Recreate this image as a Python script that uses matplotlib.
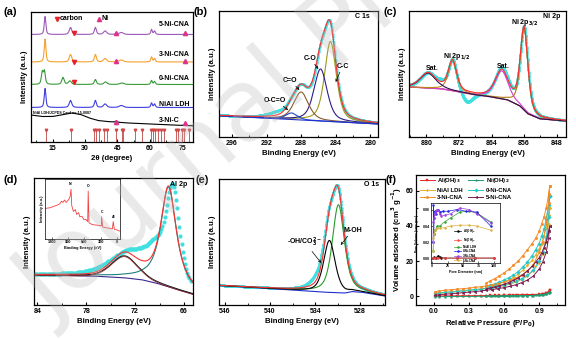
import numpy as np
import matplotlib
matplotlib.use('Agg')
import matplotlib.pyplot as plt
from matplotlib.ticker import AutoMinorLocator, MultipleLocator

plt.rcParams['font.family'] = ['Liberation Sans', 'DejaVu Sans']
plt.rcParams['font.weight'] = 'bold'
plt.rcParams['axes.labelweight'] = 'bold'
plt.rcParams['font.size'] = 5
plt.rcParams['axes.linewidth'] = 0.9
plt.rcParams['xtick.direction'] = 'in'
plt.rcParams['ytick.direction'] = 'in'
plt.rcParams['xtick.major.size'] = 2.5
plt.rcParams['xtick.minor.size'] = 1.4
plt.rcParams['ytick.major.size'] = 2.5
plt.rcParams['ytick.minor.size'] = 1.4
plt.rcParams['xtick.major.pad'] = 2
plt.rcParams['ytick.major.pad'] = 2
plt.rcParams['axes.labelpad'] = 2

W, H = 576, 339


def pv(x, c, h, w, eta=0.5):
    # pseudo-Voigt peak
    d = (x - c) / w
    return h * (eta / (1 + 4 * d**2) + (1 - eta) * np.exp(-4 * np.log(2) * d**2))


def peaks(x, cen, hei, wid, eta=0.5):
    return sum(pv(x, c, h, w, eta) for c, h, w in zip(cen, hei, wid))


def px_axes(l, t, r, b):
    return fig.add_axes([l / W, 1 - b / H, (r - l) / W, (b - t) / H])


# ---------------- (a) XRD ----------------
xrd_names = ['NiAl LDH', '0-Ni-CNA', '3-Ni-CNA', '5-Ni-CNA']
xrd_colors = ['#3f3fe0', '#3a9a3a', '#f5a030', '#9b59b6']
xrd_offset = [34.5, 57.5, 80, 107.5]
xrd_pos = [
    [11.5, 23.3, 34.8, 39.3, 46.8, 60.8, 62.2],
    [10.2, 11.2, 19.8, 23.0, 34.8, 39.5, 47.0, 60.8, 62.2],
    [11.5, 23.3, 34.8, 39.3, 44.5, 46.8, 60.8, 62.2, 76.4],
    [11.5, 23.3, 34.8, 39.3, 44.5, 46.8, 60.8, 62.2, 76.4],
]
xrd_hei = [
    [19, 7, 7, 3.5, 2, 4.5, 3.5],
    [12, 13, 7, 3.5, 5, 2.5, 1.5, 4, 3],
    [23, 7.5, 7.5, 3.5, 1, 2, 5, 3.5, 0.8],
    [18, 7, 7, 3.5, 1.2, 2, 5, 3.5, 1],
]
xrd_wid = [
    [0.9, 1.4, 1.1, 1.7, 2.2, 0.8, 0.9],
    [1.0, 1.0, 1.3, 1.6, 1.1, 1.7, 2.2, 0.8, 0.9],
    [0.9, 1.4, 1.1, 1.7, 1.0, 2.2, 0.8, 0.9, 1.0],
    [0.9, 1.4, 1.1, 1.7, 1.0, 2.2, 0.8, 0.9, 1.0],
]
nic_2t = [5, 10, 15, 20, 24, 28, 32, 36, 40, 50, 60, 70, 80]
nic_base = [27, 25.5, 25.5, 27.5, 29, 27.5, 24, 21.5, 20.5, 19, 18, 17, 16.2]
nic_pos = [44.5, 76.4]
nic_hei = [1.2, 0.6]
nic_wid = [1.0, 1.0]
jcpds = [11.9, 23.5, 34.3, 35.0, 36.6, 38.8, 40.3, 44.3, 47.0, 47.7, 53.3, 56.5,
         60.4, 61.3, 62.4, 63.6, 65.2, 66.6, 72.0, 72.9, 74.9, 75.8, 78.0]
carbon_marks = [(25, 109), (25, 80.5), (25, 60)]
ni_marks = [(44.5, 109.5), (44.5, 81), (44.5, 20.5), (76.4, 109.5), (76.4, 81), (76.4, 19.5)]

# ---------------- (b) C 1s ----------------
c1s_bg_x = [297.5, 279.1]
c1s_bg_y = [21.3, 13]
c1s_cen = [284.6, 285.75, 288.0, 289.1]
c1s_hei = [80, 52, 28, 6.5]
c1s_wid = [1.6, 1.8, 2.0, 1.6]
c1s_col = ['#9c9a1a', '#2b1d8a', '#8b5a2b', '#2545c8']
c1s_raw_cen = [284.6, 285.75, 288.0, 289.1, 290.8]
c1s_raw_hei = [80, 52, 28, 6.5, 4]
c1s_raw_wid = [1.6, 1.8, 2.0, 1.6, 2.5]

# ---------------- (c) Ni 2p ----------------
ni_bg_x = [884.3, 880, 876, 872, 868, 864, 860, 857, 855, 852, 845.7]
ni_bg_y = [50, 49, 48, 45, 42, 40, 37, 31, 23, 18, 16]
ni_cen = [856.0, 861.5, 873.6, 879.6]
ni_hei = [82, 28, 30, 15]
ni_wid = [2.2, 3.8, 2.4, 4.5]
ni_col = ['#b07a10', '#d83ad8', '#c08020', '#2a1050']
ni_raw_cen = [856.0, 861.5, 873.6, 879.6, 870.0, 876.5]
ni_raw_hei = [82, 30, 31, 15, -11, 3]
ni_raw_wid = [2.2, 3.8, 2.4, 4.5, 3.2, 2.0]

# ---------------- (d) Al 2p ----------------
al_bg_x = [84.4, 80, 76, 73, 71, 69, 67, 66, 64.9]
al_bg_y = [30, 29.5, 28.5, 27, 25, 21, 16, 13.5, 11]
al_cen = [67.9, 73.3]
al_hei = [100, 22]
al_wid = [2.3, 3.8]
al_raw_cen = [67.4, 72.5, 69.5]
al_raw_hei = [94, 26, 22]
al_raw_wid = [2.0, 6.0, 2.5]
survey_be = [1320, 1230, 1170, 1111, 1050, 1020, 990, 963, 933, 885, 861, 844, 832,
             802, 766, 743, 707, 683, 647, 606, 576, 540, 531, 516, 457, 368, 291,
             285, 267, 160, 89, 74, 53, 0, -50]
survey_int = [51, 52, 54, 56, 58.5, 63, 61, 65, 61, 66, 71, 83, 56, 46, 49, 41, 44,
              37, 38, 32, 33, 29, 80, 27, 24, 23, 22, 37, 20, 18, 17, 29, 16, 15, 13]

# ---------------- (e) O 1s ----------------
o_bg_x = [546.8, 540, 535, 532, 530, 529, 527.5, 524.7]
o_bg_y = [19.5, 16.5, 14, 12.5, 12, 13.5, 12.5, 9]
o_cen = [530.9, 532.1]
o_hei = [88, 52]
o_wid = [1.9, 1.8]
o_raw_cen = [530.9, 532.2, 534.0]
o_raw_hei = [88, 55, 5]
o_raw_wid = [1.9, 1.9, 2.0]

# ---------------- (f) N2 isotherms ----------------
p_ads = [0.01, 0.05, 0.1, 0.15, 0.2, 0.25, 0.3, 0.35, 0.4, 0.45, 0.5, 0.55, 0.6,
         0.65, 0.7, 0.75, 0.8, 0.85, 0.9, 0.93, 0.96, 0.98, 0.99]
p_des = [0.99, 0.98, 0.96, 0.94, 0.92, 0.9, 0.87, 0.84, 0.8, 0.76, 0.72, 0.68,
         0.64, 0.6, 0.56, 0.52, 0.48, 0.45]
iso_names = ['Al(OH)$_3$', 'Ni(OH)$_2$', 'NiAl LDH', '0-Ni-CNA', '3-Ni-CNA', '5-Ni-CNA']
iso_colors = ['#e02828', '#1f9b6e', '#e8b030', '#22c8c8', '#f58a24', '#7a1a50']
iso_markers = ['s', '*', 'P', 'D', 'o', '<']
iso_ads = [
    [0.1, 0.15, 0.2, 0.2, 0.25, 0.25, 0.3, 0.3, 0.35, 0.35, 0.4, 0.4, 0.45, 0.5,
     0.55, 0.6, 0.7, 0.8, 0.95, 1.2, 1.6, 2.4, 3.5],
    [-0.3, -0.25, -0.2, -0.2, -0.15, -0.15, -0.1, -0.1, -0.05, -0.05, 0, 0, 0.05,
     0.1, 0.15, 0.2, 0.3, 0.4, 0.55, 0.75, 1.1, 1.7, 2.5],
    [1.3, 1.7, 2.0, 2.3, 2.6, 2.9, 3.2, 3.5, 3.9, 4.3, 4.8, 5.3, 6.0, 6.9, 8.0, 9.5,
     11.5, 14.5, 19, 24, 31, 41, 50],
    [1.6, 2.0, 2.3, 2.6, 2.9, 3.2, 3.5, 3.8, 4.2, 4.6, 5.1, 5.7, 6.4, 7.3, 8.5, 10,
     12, 15, 20, 25, 33, 45, 57],
    [2.5, 3.0, 3.4, 3.7, 4.0, 4.3, 4.6, 5.0, 5.4, 5.9, 6.5, 7.2, 8.0, 9.0, 10.3,
     12.0, 14.3, 18, 25, 31, 41, 53, 63],
    [0.6, 0.9, 1.2, 1.4, 1.7, 2.0, 2.3, 2.6, 3.0, 3.4, 3.8, 4.3, 4.9, 5.6, 6.5, 7.7,
     9.2, 11.5, 15.5, 19.5, 25, 33, 40],
]
iso_des = [
    [3.5, 2.6, 1.8, 1.4, 1.15, 1.0, 0.9, 0.8, 0.75, 0.7, 0.65, 0.6, 0.55, 0.5, 0.5,
     0.45, 0.45, 0.4],
    [2.5, 1.9, 1.3, 1.0, 0.8, 0.65, 0.5, 0.4, 0.35, 0.3, 0.25, 0.2, 0.15, 0.1, 0.1,
     0.05, 0.05, 0],
    [50, 46, 39, 34, 30, 27, 23.5, 20.5, 17.5, 14.8, 12.5, 10.7, 9.3, 8.2, 7.2, 6.3,
     5.6, 5.0],
    [57, 52, 44, 38, 34, 30, 26.5, 23, 19.5, 16.5, 14, 12, 10.5, 9.2, 8.0, 7.0, 6.2,
     5.6],
    [63, 58, 50, 45, 41, 37, 33, 30, 26.5, 23, 20, 17.5, 15.3, 13.2, 11.5, 10.0,
     8.6, 7.6],
    [40, 37, 31, 27.5, 24.5, 22, 19.5, 17, 14.5, 12.3, 10.5, 9.0, 7.8, 6.8, 6.0,
     5.3, 4.7, 4.2],
]
psd_names = ['Al(OH)$_3$', 'Ni(OH)$_2$', 'NiAl LDH', '0-Ni-CNA', '3-Ni-CNA', '5-Ni-CNA']
psd_colors = ['#000000', '#ff4040', '#30a030', '#2020e0', '#9b40e0', '#e0b040']
psd_x = [
    [1, 3, 6, 10, 12, 15, 20, 40, 70, 100],
    [1, 5, 10, 20, 40, 70, 100],
    [1.5, 2, 3, 5, 8, 12, 20, 30, 45, 60, 72, 95],
    [1.5, 2, 2.5, 3, 4, 6, 8, 10, 13, 17, 25, 40, 55, 72, 95],
    [1.5, 2, 3, 4, 6, 8, 10, 12, 15, 20, 30, 45, 60, 72, 95],
    [1.5, 2, 3, 5, 8, 12, 20, 30, 45, 60, 72, 95],
]
psd_y = [
    [0.001, 0.002, 0.0015, 0.004, 0.002, 0.0015, 0.001, 0.001, 0.001, 0.001],
    [0.0015, 0.001, 0.001, 0.001, 0.001, 0.001, 0.001],
    [0.01, 0.02, 0.03, 0.035, 0.04, 0.04, 0.045, 0.05, 0.057, 0.058, 0.056, 0.045],
    [0.02, 0.065, 0.03, 0.05, 0.058, 0.055, 0.06, 0.06, 0.057, 0.058, 0.058, 0.06,
     0.058, 0.057, 0.04],
    [0.02, 0.045, 0.05, 0.055, 0.058, 0.06, 0.06, 0.055, 0.052, 0.053, 0.055, 0.062,
     0.06, 0.055, 0.044],
    [0.01, 0.025, 0.03, 0.035, 0.037, 0.037, 0.038, 0.04, 0.041, 0.041, 0.04, 0.035],
]

LBL = 5.6
TCK = 5.0
LW = 0.8

fig = plt.figure(figsize=(W / 100, H / 100), dpi=100)


def xps_style(ax, xlim, ylim, major, label='Binding Energy (eV)'):
    ax.set_xlim(*xlim)
    ax.set_ylim(*ylim)
    ax.set_yticks([])
    ax.xaxis.set_major_locator(MultipleLocator(major))
    ax.xaxis.set_minor_locator(AutoMinorLocator(2))
    ax.tick_params(labelsize=TCK)
    ax.set_xlabel(label, fontsize=LBL)
    ax.set_ylabel('Intensity (a.u.)', fontsize=LBL)


# (a)
ax = px_axes(31, 12, 193, 142)
tt = np.linspace(5, 80, 1501)
for name, col, off, pos, hei, wid in zip(xrd_names, xrd_colors, xrd_offset, xrd_pos, xrd_hei, xrd_wid):
    ax.plot(tt, off + peaks(tt, pos, hei, wid, 0.6), color=col, lw=LW)
ax.plot(tt, np.interp(tt, nic_2t, nic_base) + peaks(tt, nic_pos, nic_hei, nic_wid), color='black', lw=LW)
ax.vlines(jcpds, 0, 12, color='#c86060', lw=0.7)
ax.plot(jcpds, [12] * len(jcpds), 'v', color='#d04848', ms=1.8)
for x, y in carbon_marks:
    ax.plot(x, y, 'v', color='#e8202a', ms=3)
for x, y in ni_marks:
    ax.plot(x, y, '^', color='#e0308a', ms=3)
ax.plot(17, 123, 'v', color='#e8202a', ms=3)
ax.text(18.5, 123, 'carbon', fontsize=5, va='center')
ax.plot(36.3, 123, '^', color='#e0308a', ms=3)
ax.text(37.8, 123, 'Ni', fontsize=5, va='center')
for txt, y in [('5-Ni-CNA', 118), ('3-Ni-CNA', 88), ('0-Ni-CNA', 63), ('NiAl LDH', 38)]:
    ax.text(78.5, y, txt, fontsize=5, ha='right', va='center')
ax.text(74, 21, '3-Ni-C', fontsize=5, ha='right', va='center')
ax.text(6, 29.5, 'NiAl LDH/JCPDS Card no:15-0087', fontsize=2.6, va='center')
ax.set_xlim(5, 80)
ax.set_ylim(0, 130)
ax.set_yticks([])
ax.xaxis.set_major_locator(MultipleLocator(15))
ax.xaxis.set_minor_locator(AutoMinorLocator(2))
ax.tick_params(labelsize=TCK)
ax.set_xlabel('2\u03b8 (degree)', fontsize=LBL)
ax.set_ylabel('Intensity (a.u.)', fontsize=LBL)

# (b)
ax = px_axes(219, 11, 378, 137)
xb = np.linspace(279.1, 297.5, 800)
bgb = np.interp(xb, c1s_bg_x[::-1], c1s_bg_y[::-1])
ax.plot(xb, bgb + peaks(xb, c1s_raw_cen, c1s_raw_hei, c1s_raw_wid), 'o', color='#40e0e0', ms=1.6, mew=0)
for c, h, w, col in zip(c1s_cen, c1s_hei, c1s_wid, c1s_col):
    ax.plot(xb, bgb + pv(xb, c, h, w), color=col, lw=LW)
ax.plot(xb, bgb, color='#2030d0', lw=LW)
ax.plot(xb, bgb + peaks(xb, c1s_cen, c1s_hei, c1s_wid), color='#ff3030', lw=LW)
arrow = dict(arrowstyle='->', lw=0.5, color='black', shrinkA=0, shrinkB=0, mutation_scale=4)
ax.annotate('C-C', xy=(284.0, 55), xytext=(283.2, 71), fontsize=5, ha='center', va='center', arrowprops=arrow)
ax.annotate('C-O', xy=(286.0, 68), xytext=(287.0, 79), fontsize=5, ha='center', va='center', arrowprops=arrow)
ax.annotate('C=O', xy=(288.2, 47), xytext=(289.3, 57), fontsize=5, ha='center', va='center', arrowprops=arrow)
ax.annotate('O-C=O', xy=(289.5, 27), xytext=(291.0, 37), fontsize=5, ha='center', va='center', arrowprops=arrow)
ax.text(280.0, 121, 'C 1s', fontsize=5, ha='right', va='center')
xps_style(ax, (297.5, 279.1), (0, 126), 4)

# (c)
ax = px_axes(409, 11, 566, 137)
xc = np.linspace(845.7, 884.3, 1200)
bgc = np.interp(xc, ni_bg_x[::-1], ni_bg_y[::-1])
ax.plot(xc, bgc + peaks(xc, ni_raw_cen, ni_raw_hei, ni_raw_wid), 'o', color='#40e0e0', ms=1.8, mew=0)
ax.plot(xc, bgc, color='#d83ad8', lw=LW)
for c, h, w, col in zip(ni_cen, ni_hei, ni_wid, ni_col):
    ax.plot(xc, bgc + pv(xc, c, h, w), color=col, lw=LW)
ax.plot(xc, bgc + peaks(xc, ni_cen, ni_hei, ni_wid), color='#ff3030', lw=LW)
ax.text(847, 121, 'Ni 2p', fontsize=5, ha='right', va='center')
ax.text(855.8, 114, 'Ni 2p$_{3/2}$', fontsize=5, ha='center', va='center')
ax.text(872.5, 80, 'Ni 2p$_{1/2}$', fontsize=5, ha='center', va='center')
ax.text(878.6, 69, 'Sat.', fontsize=5, ha='center', va='center')
ax.text(861.0, 70, 'Sat.', fontsize=5, ha='center', va='center')
xps_style(ax, (884.3, 845.7), (0, 126), 8)

# (d)
ax = px_axes(34, 178, 193, 305)
xd = np.linspace(65.2, 84.4, 140)
xdf = np.linspace(64.9, 84.4, 800)
bgd = np.interp(xdf, al_bg_x[::-1], al_bg_y[::-1])
ax.plot(xd, np.interp(xd, al_bg_x[::-1], al_bg_y[::-1]) + peaks(xd, al_raw_cen, al_raw_hei, al_raw_wid),
        'o', color='#40e0e0', ms=3, mew=0)
ax.plot(xdf, bgd, color='#3a2a90', lw=LW)
ax.plot(xdf, bgd + pv(xdf, al_cen[0], al_hei[0], al_wid[0], 0.9), color='#208080', lw=LW)
ax.plot(xdf, bgd + pv(xdf, al_cen[1], al_hei[1], al_wid[1], 0.3), color='#222222', lw=LW)
ax.plot(xdf, bgd + pv(xdf, al_cen[1], al_hei[1], al_wid[1], 0.3) - 0.8, color='#8b2525', lw=LW * 0.7)
ax.plot(xdf, bgd + pv(xdf, al_cen[0], al_hei[0], al_wid[0], 0.9) + pv(xdf, al_cen[1], al_hei[1], al_wid[1], 0.3),
        color='#ff3030', lw=LW)
ax.text(65.6, 121, 'Al 2p', fontsize=5, ha='right', va='center')
xps_style(ax, (84.4, 64.9), (0, 127), 6)

ins = px_axes(45, 179, 120, 239)
ins.plot(survey_be, survey_int, color='#f04040', lw=0.6)
for txt, x, y in [('Ni', 844, 88), ('O', 531, 85), ('C', 285, 42), ('Al', 74, 33)]:
    ins.text(x, y, txt, fontsize=2.5, ha='center', va='bottom')
ins.set_xlim(1320, -50)
ins.set_ylim(0, 100)
ins.set_yticks([])
ins.set_xticks([1200, 900, 600, 300, 0])
ins.tick_params(labelsize=2.8, length=1.2, width=0.4, pad=1)
ins.set_xlabel('Binding Energy (eV)', fontsize=2.8, labelpad=1)
ins.set_ylabel('Intensity (a.u.)', fontsize=2.8, labelpad=1)
for s in ins.spines.values():
    s.set_linewidth(0.5)

# (e)
ax = px_axes(219, 179, 385, 305)
xe = np.linspace(524.7, 546.8, 900)
bge = np.interp(xe, o_bg_x[::-1], o_bg_y[::-1])
ax.plot(xe, bge + peaks(xe, o_raw_cen, o_raw_hei, o_raw_wid), 'o', color='#40e0e0', ms=1.8, mew=0)
ax.plot(xe, bge, color='#2030d0', lw=LW)
ax.plot(xe, bge + pv(xe, o_cen[0], o_hei[0], o_wid[0]), color='#2a9a2a', lw=LW)
ax.plot(xe, bge + pv(xe, o_cen[1], o_hei[1], o_wid[1]), color='black', lw=LW)
ax.plot(xe, bge + peaks(xe, o_cen, o_hei, o_wid), color='#ff3030', lw=LW)
ax.annotate('M-OH', xy=(530.6, 60), xytext=(529.0, 75), fontsize=5, ha='center', va='center', arrowprops=arrow)
ax.annotate('-OH/CO$_3^{2-}$', xy=(533.2, 42), xytext=(535.4, 63), fontsize=5, ha='center', va='center',
            arrowprops=arrow)
ax.text(525.5, 121, 'O 1s', fontsize=5, ha='right', va='center')
xps_style(ax, (546.8, 524.7), (0, 126), 6)

# (f)
ax = px_axes(416, 175, 565, 305)
handles = []
for name, col, mk, ya, yd in zip(iso_names, iso_colors, iso_markers, iso_ads, iso_des):
    h, = ax.plot(p_ads + p_des, ya + yd, color=col, marker=mk, ms=1.8, lw=0.7, mew=0.3, label=name)
    handles.append(h)
order = [0, 2, 4, 1, 3, 5]
ax.legend([handles[i] for i in order], [iso_names[i] for i in order], ncol=2, loc='upper left',
          fontsize=4.3, frameon=False, bbox_to_anchor=(-0.01, 1.03), handlelength=2.5,
          columnspacing=0.8, labelspacing=0.35, handletextpad=0.4)
ax.set_xlim(-0.15, 1.12)
ax.set_ylim(-5, 69)
ax.xaxis.set_major_locator(MultipleLocator(0.3))
ax.xaxis.set_minor_locator(AutoMinorLocator(2))
ax.yaxis.set_major_locator(MultipleLocator(20))
ax.yaxis.set_minor_locator(AutoMinorLocator(2))
ax.tick_params(labelsize=TCK)
ax.set_xlabel('Relative Pressure (P/P$_0$)', fontsize=LBL)
ax.set_ylabel('Volume adsorbed (cm$^3$ g$^{-1}$)', fontsize=LBL, labelpad=1)

ins = px_axes(431, 203, 500, 263)
ph = []
for name, col, xs, ys in zip(psd_names, psd_colors, psd_x, psd_y):
    h, = ins.plot(xs, ys, color=col, marker='o', ms=0.8, lw=0.5, label=name)
    ph.append(h)
ins.legend(handles=ph, fontsize=2.2, frameon=False, loc='center left', bbox_to_anchor=(0.3, 0.3),
           handlelength=2, labelspacing=0.2)
ins.set_xlim(-2, 110)
ins.set_ylim(-0.005, 0.068)
ins.set_xticks([0, 25, 50, 75, 100])
ins.set_yticks([0, 0.02, 0.04, 0.06])
ins.tick_params(labelsize=2.6, length=1.2, width=0.4, pad=1)
ins.set_xlabel('Pore Diameter (nm)', fontsize=2.6, labelpad=1)
ins.set_ylabel('Pore Volume (cm$^3$ g$^{-1}$)', fontsize=2.4, labelpad=0.5)
for s in ins.spines.values():
    s.set_linewidth(0.5)

# panel letters
for txt, x, y in [('(a)', 4, 12), ('(b)', 194, 12), ('(c)', 384, 12),
                  ('(d)', 4, 180), ('(e)', 196, 180), ('(f)', 386, 180)]:
    fig.text(x / W, 1 - y / H, txt, fontsize=8, fontweight='bold', va='center')

# watermark
fig.text(0.0, 0.0, 'Journal Pre-proof', rotation=41, fontsize=72, color='#b8b8b8', alpha=0.3,
         fontweight='normal', ha='left', va='bottom', family='DejaVu Sans')

fig.savefig('out.png', dpi=100)
